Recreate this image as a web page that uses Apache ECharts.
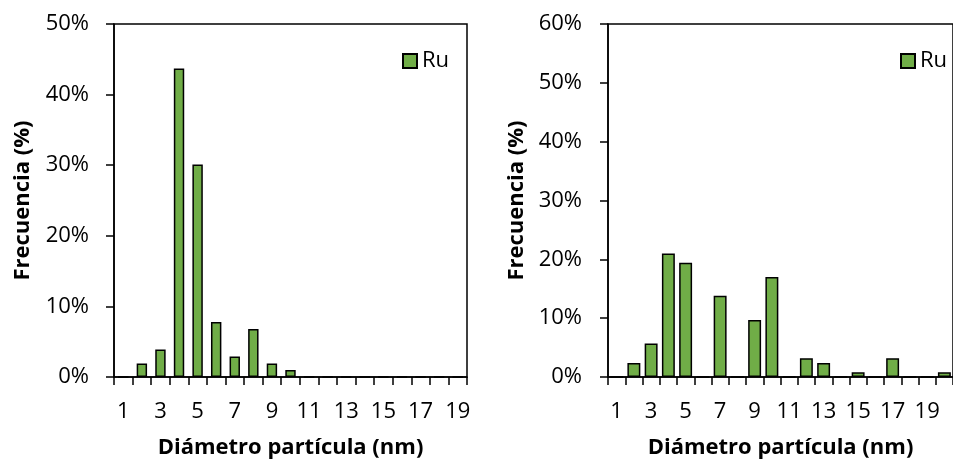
<!DOCTYPE html>
<html>
<head>
<meta charset="utf-8">
<script src="https://cdn.jsdelivr.net/npm/echarts@6/dist/echarts.min.js"></script>
<style>
html,body{margin:0;padding:0;background:#fff;}
#c{width:953px;height:464px;}
</style>
</head>
<body>
<div id="c"></div>
<script>
const categoriesLeft = ['1','2','3','4','5','6','7','8','9','10','11','12','13','14','15','16','17','18','19'];
const valuesLeft = [0, 1.9, 3.9, 43.7, 30.1, 7.8, 2.9, 6.8, 1.9, 1.0, 0, 0, 0, 0, 0, 0, 0, 0, 0];
const categoriesRight = ['1','2','3','4','5','6','7','8','9','10','11','12','13','14','15','16','17','18','19','20'];
const valuesRight = [0, 2.4, 5.7, 21.0, 19.4, 0, 13.8, 0, 9.7, 17.0, 0, 3.2, 2.4, 0, 0.8, 0, 3.2, 0, 0, 0.8];
const yTicksLeft = {min: 0, max: 50, interval: 10};
const yTicksRight = {min: 0, max: 60, interval: 10};
const seriesName = 'Ru';
const xTitle = 'Diámetro partícula (nm)';
const yTitle = 'Frecuencia (%)';

const FONT = 'Open Sans';
const FS = 22;
const green = '#70AD47';

function xAxis(idx, cats) {
  return {
    type: 'category', gridIndex: idx, data: cats,
    axisLine: {lineStyle: {color: '#000', width: 1.5}},
    axisTick: {show: true, interval: 0, length: 8, lineStyle: {color: '#000', width: 1.5}},
    axisLabel: {interval: 1, color: '#000', fontFamily: FONT, fontSize: FS, margin: 24},
    name: xTitle, nameLocation: 'middle', nameGap: 60,
    nameTextStyle: {color: '#000', fontFamily: FONT, fontSize: FS, fontWeight: 'bold'}
  };
}
function yAxis(idx, t, gap) {
  return {
    type: 'value', gridIndex: idx, min: t.min, max: t.max, interval: t.interval,
    axisLine: {show: true, lineStyle: {color: '#000', width: 1.5}},
    axisTick: {show: true, length: 8, lineStyle: {color: '#000', width: 1.5}},
    splitLine: {show: false},
    axisLabel: {formatter: '{value}%', color: '#000', fontFamily: FONT, fontSize: FS, margin: gap},
    name: yTitle, nameLocation: 'middle', nameRotate: 90, nameGap: 80,
    nameTextStyle: {color: '#000', fontFamily: FONT, fontSize: FS, fontWeight: 'bold'}
  };
}

const chart = echarts.init(document.getElementById('c'), null, {renderer: 'canvas'});
chart.setOption({
  animation: false,
  backgroundColor: '#fff',
  grid: [
    {left: 114, top: 24, width: 353, height: 353, show: true, borderColor: '#000', borderWidth: 1.5, backgroundColor: 'transparent'},
    {left: 608, top: 24, width: 355, height: 353, show: true, borderColor: '#000', borderWidth: 1.5, backgroundColor: 'transparent'}
  ],
  legend: [
    {data: [seriesName], left: 397, top: 45, itemWidth: 14, itemHeight: 14, itemGap: 6, icon: 'rect',
     textStyle: {color: '#000', fontFamily: FONT, fontSize: FS}},
    {data: [seriesName], left: 895, top: 45, itemWidth: 14, itemHeight: 14, itemGap: 6, icon: 'rect',
     textStyle: {color: '#000', fontFamily: FONT, fontSize: FS}}
  ],
  xAxis: [xAxis(0, categoriesLeft), xAxis(1, categoriesRight)],
  yAxis: [yAxis(0, yTicksLeft, 25), yAxis(1, yTicksRight, 26)],
  series: [
    {name: seriesName, type: 'bar', xAxisIndex: 0, yAxisIndex: 0, data: valuesLeft, barWidth: '56%',
     itemStyle: {color: green, borderColor: '#000', borderWidth: 1.5}},
    {name: seriesName, type: 'bar', xAxisIndex: 1, yAxisIndex: 1, data: valuesRight, barWidth: '75%',
     itemStyle: {color: green, borderColor: '#000', borderWidth: 1.5}}
  ]
});
</script>
</body>
</html>
